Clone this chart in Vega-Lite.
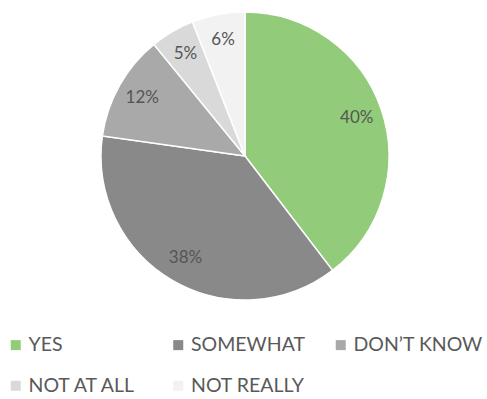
{
  "$schema": "https://vega.github.io/schema/vega-lite/v6.json",
  "width": 490,
  "height": 312,
  "padding": 0,
  "autosize": {"type": "pad"},
  "background": "white",
  "data": {"values": [
    {"answer": "YES", "share": 0.40, "rank": 1},
    {"answer": "SOMEWHAT", "share": 0.38, "rank": 2},
    {"answer": "DON’T KNOW", "share": 0.12, "rank": 3},
    {"answer": "NOT AT ALL", "share": 0.05, "rank": 4},
    {"answer": "NOT REALLY", "share": 0.06, "rank": 5}
  ]},
  "encoding": {
    "theta": {"field": "share", "type": "quantitative", "stack": true},
    "order": {"field": "rank", "type": "quantitative"},
    "color": {
      "field": "answer", "type": "nominal",
      "scale": {
        "domain": ["YES", "SOMEWHAT", "DON’T KNOW", "NOT AT ALL", "NOT REALLY"],
        "range": ["#92cc7a", "#898989", "#a9a9a9", "#d9d9d9", "#f2f2f2"]
      },
      "legend": {
        "title": null,
        "orient": "none",
        "legendX": 6,
        "legendY": 335,
        "padding": 0,
        "direction": "horizontal",
        "columns": 3,
        "symbolType": "square",
        "symbolSize": 100,
        "symbolStrokeWidth": 0,
        "labelFont": "Lato",
        "labelFontSize": 19.5,
        "labelColor": "#595959",
        "labelOffset": 3,
        "labelLimit": 300,
        "columnPadding": 10.5,
        "rowPadding": 20,
        "gridAlign": "all"
      }
    }
  },
  "layer": [
    {
      "mark": {"type": "arc", "outerRadius": 144, "stroke": "white", "strokeWidth": 1.5}
    },
    {
      "mark": {"type": "text", "radius": 118, "font": "Lato", "fontSize": 17, "fill": "#555555"},
      "encoding": {
        "text": {"field": "share", "type": "quantitative", "format": ".0%"},
        "color": {"value": "#555555"}
      }
    }
  ]
}
